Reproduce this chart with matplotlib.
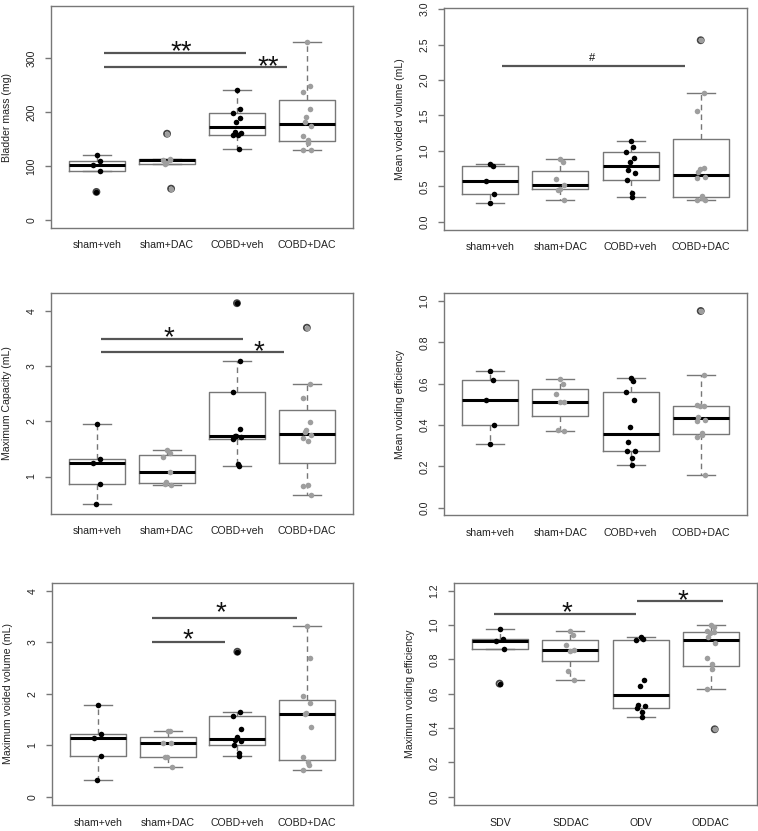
import numpy as np
import matplotlib
matplotlib.use("Agg")
import matplotlib.pyplot as plt

plt.rcParams['font.family'] = ['Liberation Sans', 'DejaVu Sans']

groups = ['sham+veh', 'sham+DAC', 'COBD+veh', 'COBD+DAC']
groups_short = ['SDV', 'SDDAC', 'ODV', 'ODDAC']

bladder_mass = [[120, 109.5, 101, 90, 52],
                [160, 113, 112, 111, 105, 104, 58],
                [242, 206, 199, 189, 181, 164, 162, 157, 157, 131],
                [329.6, 248.6, 237, 206.6, 191, 181.8, 174.4, 156.5, 148, 143.5, 130, 130]]
mean_voided = [[0.815, 0.79, 0.575, 0.385, 0.26],
               [0.89, 0.84, 0.60, 0.52, 0.46, 0.45, 0.31],
               [1.135, 1.055, 0.984, 0.904, 0.843, 0.73, 0.692, 0.589, 0.41, 0.353],
               [2.56, 1.82, 1.56, 0.76, 0.74, 0.70, 0.63, 0.62, 0.36, 0.34, 0.31, 0.30]]
max_capacity = [[1.96, 1.314, 1.247, 0.867, 0.499],
                [1.489, 1.435, 1.35, 1.085, 0.903, 0.867, 0.843],
                [4.145, 3.094, 2.527, 1.857, 1.736, 1.73, 1.712, 1.676, 1.235, 1.19],
                [3.70, 2.684, 2.418, 1.984, 1.839, 1.803, 1.754, 1.70, 1.652, 0.855, 0.837, 0.656]]
mean_eff = [[0.661, 0.616, 0.523, 0.40, 0.308],
            [0.623, 0.597, 0.55, 0.513, 0.51, 0.375, 0.37],
            [0.629, 0.615, 0.56, 0.52, 0.39, 0.32, 0.275, 0.274, 0.242, 0.206],
            [0.952, 0.64, 0.495, 0.49, 0.49, 0.44, 0.425, 0.42, 0.361, 0.352, 0.34, 0.16]]
max_voided = [[1.789, 1.219, 1.135, 0.797, 0.331],
              [1.27, 1.27, 1.05, 1.05, 0.77, 0.77, 0.57],
              [2.82, 1.653, 1.58, 1.31, 1.154, 1.10, 1.083, 0.998, 0.849, 0.797],
              [3.313, 2.697, 1.964, 1.815, 1.62, 1.61, 1.348, 0.778, 0.668, 0.622, 0.53]]
max_eff = [[0.975, 0.92, 0.91, 0.863, 0.659],
           [0.967, 0.941, 0.885, 0.855, 0.85, 0.733, 0.679],
           [0.928, 0.92, 0.912, 0.68, 0.646, 0.537, 0.531, 0.519, 0.494, 0.463],
           [1.0, 0.99, 0.965, 0.96, 0.955, 0.933, 0.897, 0.807, 0.776, 0.747, 0.628, 0.393]]

W, H = 758, 831
fig = plt.figure(figsize=(W / 100, H / 100), dpi=100)

FRAME = '#777777'
LINE = '#555555'
GREY = '#9e9e9e'


def r_stats(v):
    # boxplot stats the way R does it (fivenum hinges, 1.5 IQR)
    x = np.sort(np.asarray(v, float))
    n = len(x)
    n4 = np.floor((n + 3) / 2) / 2
    d = np.array([1, n4, (n + 1) / 2, n + 1 - n4, n])
    fn = 0.5 * (x[np.floor(d).astype(int) - 1] + x[np.ceil(d).astype(int) - 1])
    q1, med, q3 = fn[1], fn[2], fn[3]
    iqr = q3 - q1
    lo, hi = q1 - 1.5 * iqr, q3 + 1.5 * iqr
    inside = x[(x >= lo) & (x <= hi)]
    return dict(med=med, q1=q1, q3=q3, whislo=inside.min(), whishi=inside.max(),
                fliers=x[(x < lo) | (x > hi)], lo=lo, hi=hi)


def panel(rect, data, labels, ylab, ylim, yticks, ytl, lines, texts):
    l, r, t, b = rect
    ax = fig.add_axes([l / W, 1 - b / H, (r - l) / W, (b - t) / H])
    stats = [r_stats(v) for v in data]
    ax.bxp(stats, positions=[1, 2, 3, 4], widths=0.8, capwidths=0.4,
           showfliers=False,
           boxprops=dict(color=FRAME, lw=1),
           medianprops=dict(color='black', lw=2.2),
           whiskerprops=dict(color=FRAME, lw=1, linestyle=(0, (4, 3))),
           capprops=dict(color=FRAME, lw=1))
    for i, v in enumerate(data):
        v = np.asarray(v, float)
        n = len(v)
        xs = i + 1 + 0.06 * np.sin(np.arange(n) * 2.4)
        out = (v < stats[i]['lo']) | (v > stats[i]['hi'])
        col = 'black' if i % 2 == 0 else GREY
        # outlier circle from boxplot, same spot as the strip point
        ax.scatter(xs[out], v[out], s=19, facecolors='none', edgecolors='#444444',
                   lw=1.3, zorder=3)
        ax.scatter(xs, v, s=16, color=col, zorder=4, lw=0)
    for x0, x1, y in lines:
        ax.plot([x0, x1], [y, y], color=LINE, lw=1.6, solid_capstyle='butt')
    for x, y, txt, fs in texts:
        ax.annotate(txt, (x, y), xytext=(0, -0.6 * fs if txt != '#' else -0.35 * fs),
                    textcoords='offset points', ha='center', va='baseline',
                    fontsize=fs, color='#111111')
    ax.set_xlim(0.34, 4.66)
    ax.set_ylim(*ylim)
    ax.set_xticks([1, 2, 3, 4])
    ax.set_xticklabels(labels, fontsize=7.6, color='#222222')
    ax.set_yticks(yticks)
    ax.set_yticklabels(ytl, fontsize=7.6, color='#222222', rotation=90, va='center')
    ax.tick_params(axis='x', length=0, pad=9)
    ax.tick_params(axis='y', length=4.5, width=1, color=FRAME, pad=6)
    for s in ax.spines.values():
        s.set_color(FRAME)
        s.set_linewidth(1)
    ax.set_ylabel(ylab, fontsize=7.6, color='#222222')
    ax.yaxis.set_label_coords(-44 / (r - l), 0.5)
    ax.yaxis.label.set_va('center')
    return ax


panel((51, 353, 6, 228), bladder_mass, groups, 'Bladder mass (mg)', (-15, 397),
      [0, 100, 200, 300], ['0', '100', '200', '300'],
      [(1.1, 3.13, 309), (1.1, 3.71, 284.5)],
      [(2.21, 329, '**', 20), (3.45, 302, '**', 20)])
panel((444, 747, 8, 230), mean_voided, groups, 'Mean voided volume (mL)', (-0.117, 3.015),
      np.arange(0, 3.01, 0.5), ['0.0', '0.5', '1.0', '1.5', '2.0', '2.5', '3.0'],
      [(1.16, 3.78, 2.2)],
      [(2.45, 2.32, '#', 8)])
panel((51, 353, 293, 514), max_capacity, groups, 'Maximum Capacity (mL)', (0.32, 4.33),
      [1, 2, 3, 4], ['1', '2', '3', '4'],
      [(1.06, 3.09, 3.5), (1.06, 3.68, 3.26)],
      [(2.02, 3.69, '*', 20), (3.31, 3.43, '*', 20)])
panel((444, 747, 293, 515), mean_eff, groups, 'Mean voiding efficiency', (-0.035, 1.039),
      np.arange(0, 1.01, 0.2), ['0.0', '0.2', '0.4', '0.6', '0.8', '1.0'],
      [], [])
panel((52, 353, 583, 805), max_voided, groups, 'Maximum voided volume (mL)', (-0.16, 4.156),
      [0, 1, 2, 3, 4], ['0', '1', '2', '3', '4'],
      [(1.78, 3.86, 3.48), (1.78, 2.82, 3.008)],
      [(2.77, 3.76, '*', 20), (2.29, 3.23, '*', 20)])
panel((454, 757, 583, 805), max_eff, groups_short, 'Maximum voiding efficiency', (-0.048, 1.245),
      np.arange(0, 1.21, 0.2), ['0.0', '0.2', '0.4', '0.6', '0.8', '1.0', '1.2'],
      [(0.91, 2.94, 1.064), (2.95, 4.17, 1.138)],
      [(1.95, 1.128, '*', 20), (3.6, 1.196, '*', 20)])

fig.savefig('out.png', dpi=100)
